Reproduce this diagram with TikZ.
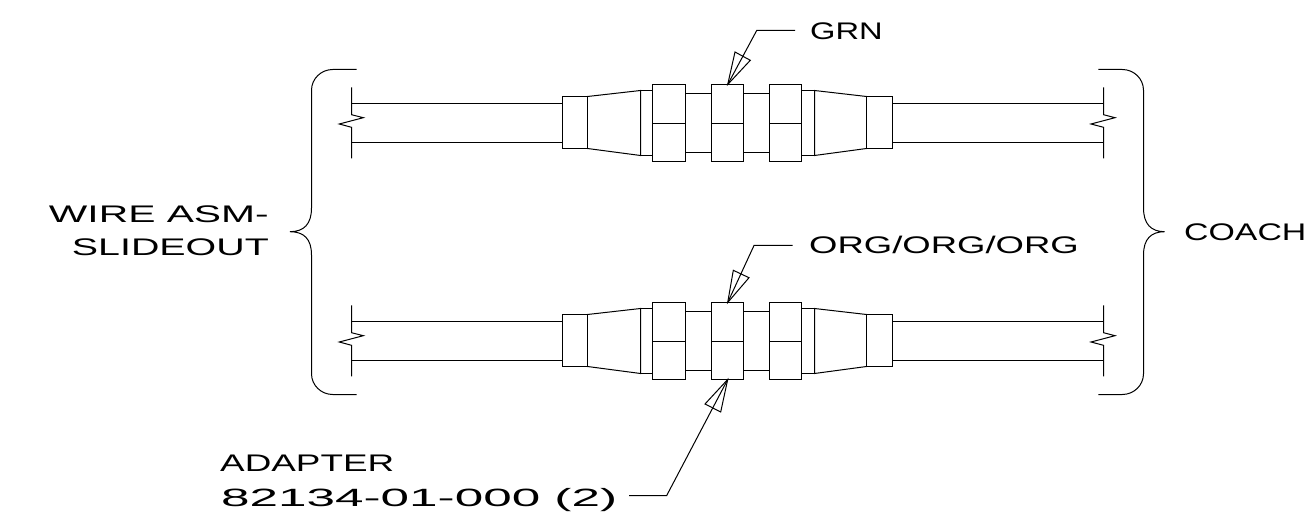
\documentclass[tikz,border=0pt]{standalone}
\usepackage{fontspec}
\setmainfont{Liberation Sans}
\newfontfamily\stretchGrn[FakeStretch=1.36]{Liberation Sans}
\newfontfamily\stretchOrg[FakeStretch=1.52]{Liberation Sans}
\newfontfamily\stretchWire[FakeStretch=1.70]{Liberation Sans}
\newfontfamily\stretchSlide[FakeStretch=1.64]{Liberation Sans}
\newfontfamily\stretchCoach[FakeStretch=1.41]{Liberation Sans}
\newfontfamily\stretchAdapter[FakeStretch=1.535]{Liberation Sans}
\newfontfamily\stretchPart[FakeStretch=2.05]{Liberation Sans}
\tikzset{
  ln/.style={line width=1pt,line join=miter,line cap=butt},
  lbl/.style={inner sep=0pt,font=\fontsize{24}{24}\selectfont,text=black}
}
\newcommand{\conn}[1]{%
  \begin{scope}[yshift=#1]
    % wires
    \draw[ln] (351.5,103.5)--(562.5,103.5) (351.5,142.5)--(562.5,142.5);
    \draw[ln] (892.5,103.5)--(1103.5,103.5) (892.5,142.5)--(1103.5,142.5);
    % break ends
    \draw[ln] (351.5,87.5)--(351.5,114.7)--(363.3,117.7)--(339.3,124)--(351.5,127.3)--(351.5,158.5);
    \draw[ln] (1103.5,87.5)--(1103.5,114.7)--(1115,117.7)--(1091,124)--(1103.5,127.3)--(1103.5,158.5);
    % ferrules and tapers
    \draw[ln] (562.5,96.5) rectangle (587.5,148.5);
    \draw[ln] (866.5,96.5) rectangle (892.5,148.5);
    \draw[ln] (587.5,96.5)--(640.5,90.5)--(640.5,155.5)--(587.5,148.5);
    \draw[ln] (866.5,96.5)--(814.5,90.5)--(814.5,155.5)--(866.5,148.5);
    \draw[ln] (640.5,90.5)--(652.5,90.5) (640.5,155.5)--(652.5,155.5);
    \draw[ln] (801.5,90.5)--(814.5,90.5) (801.5,155.5)--(814.5,155.5);
    % necks
    \draw[ln] (685.5,93.5)--(711.5,93.5) (685.5,152.5)--(711.5,152.5);
    \draw[ln] (743.5,93.5)--(769.5,93.5) (743.5,152.5)--(769.5,152.5);
    % collars
    \draw[ln] (652.5,84.5) rectangle (685.5,161.5) (652.5,123.5)--(685.5,123.5);
    \draw[ln] (711.5,84.5) rectangle (743.5,161.5) (711.5,123.5)--(743.5,123.5);
    \draw[ln] (769.5,84.5) rectangle (801.5,161.5) (769.5,123.5)--(801.5,123.5);
  \end{scope}}
\begin{document}
\begin{tikzpicture}[x=1pt,y=-1pt]
\useasboundingbox (0,0) rectangle (1307,529);
\conn{0pt}
\conn{-218pt}
% braces
\draw[ln] (356.7,69.5)--(332.7,69.5)
  .. controls (321.1,69.5) and (311.5,78.7) .. (311.5,90.3)--(311.5,208)
  .. controls (311.5,224) and (304,231.7) .. (290,231.7)
  .. controls (304,231.7) and (311.5,239) .. (311.5,255)--(311.5,373.7)
  .. controls (311.5,385.3) and (321.1,394.5) .. (332.7,394.5)--(356.7,394.5);
\draw[ln] (1098.3,69.5)--(1122.3,69.5)
  .. controls (1133.9,69.5) and (1143.5,78.7) .. (1143.5,90.3)--(1143.5,208)
  .. controls (1143.5,224) and (1151,231.7) .. (1164.7,231.7)
  .. controls (1151,231.7) and (1143.5,239) .. (1143.5,255)--(1143.5,373.7)
  .. controls (1143.5,385.3) and (1133.9,394.5) .. (1122.3,394.5)--(1098.3,394.5);
% leaders
\coordinate (g0) at (795,30.5);
\coordinate (g1) at (756.7,30.5);
\coordinate (g2) at (727.7,84.5);
\draw[ln] (g0)--(g1)--(g2);
\draw[ln] (g2)--(735,52)--(750.3,60.3)--cycle;
\coordinate (o0) at (792.7,245.5);
\coordinate (o1) at (754,245.5);
\coordinate (o2) at (727.7,302.5);
\draw[ln] (o0)--(o1)--(o2);
\draw[ln] (o2)--(733.3,270.3)--(749,277.7)--cycle;
\coordinate (a0) at (629,495.5);
\coordinate (a1) at (666.7,495.5);
\coordinate (a2) at (727.7,379.5);
\draw[ln] (a0)--(a1)--(a2);
\draw[ln] (a2)--(705,404)--(720.7,412)--cycle;
% labels
\node[lbl,anchor=base west] (grn) at (810,40) {\stretchGrn GRN};
\node[lbl,anchor=base west] (org) at (809,253.5) {\stretchOrg ORG/ORG/ORG};
\node[lbl,anchor=base east] (wire) at (269,222.3) {\stretchWire WIRE ASM-};
\node[lbl,anchor=base east] (slide) at (269,256) {\stretchSlide SLIDEOUT};
\node[lbl,anchor=base west] (coach) at (1184,240.7) {\stretchCoach COACH};
\node[lbl,anchor=base west] (adapter) at (220,471) {\stretchAdapter ADAPTER};
\node[lbl,anchor=base west,font=\fontsize{25}{25}\selectfont] (part) at (221,506) {\stretchPart 82134-01-000 (2)};
\end{tikzpicture}
\end{document}
